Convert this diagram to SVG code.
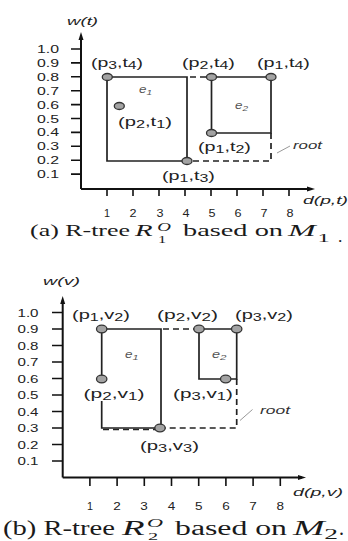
<svg xmlns="http://www.w3.org/2000/svg" width="348" height="541" viewBox="0 0 348 541">
<style>
text{font-family:"Liberation Sans",Arial,sans-serif;fill:#222}
.lbl{font-size:13px}
.s{font-size:10.5px}
.tk{font-size:10px;fill:#333}
.ax{font-size:11px;font-style:italic}
.e{font-size:10px;font-style:italic;fill:#555}
.rt{font-size:10px;font-style:italic;fill:#333}
.cap text{font-family:"Liberation Serif","Times New Roman",serif;fill:#1a1a1a}
.it{font-style:italic}
.axis{stroke:#111;stroke-width:2;fill:none}
.tick{stroke:#111;stroke-width:1.6;fill:none}
.solid{stroke:#222;stroke-width:1.7;fill:none}
.dash{stroke:#222;stroke-width:1.7;fill:none;stroke-dasharray:6 4}
.lead{stroke:#999;stroke-width:1;fill:none}
.pt{fill:#a3a3a3;stroke:#333;stroke-width:1.3}
.arr{fill:#111}
</style>

<!-- ============ Chart (a) ============ -->
<g id="axes-a">
<path class="axis" d="M81,189 V36 M81,189 H310"/>
<path class="arr" d="M81,32 L78.5,40 L83.5,40 Z"/>
<path class="arr" d="M315,189 L307,186.5 L307,191.5 Z"/>
<path class="tick" d="M71,49 H81 M71,62.9 H81 M71,76.8 H81 M71,90.7 H81 M71,104.6 H81 M71,118.5 H81 M71,132.4 H81 M71,146.3 H81 M71,160.2 H81 M71,174.1 H81"/>
<path class="tick" d="M107,189 V196 M133,189 V196 M159,189 V196 M185,189 V196 M211,189 V196 M237,189 V196 M263,189 V196 M289,189 V196"/>
<text class="ax" x="67" y="25" textLength="31" lengthAdjust="spacingAndGlyphs">w(t)</text>
<text class="ax" x="303" y="204" textLength="45" lengthAdjust="spacingAndGlyphs">d(p,t)</text>
<g class="tk" text-anchor="end">
<text x="59" y="53" textLength="22" lengthAdjust="spacingAndGlyphs">1.0</text>
<text x="59" y="66.9" textLength="22" lengthAdjust="spacingAndGlyphs">0.9</text>
<text x="59" y="80.8" textLength="22" lengthAdjust="spacingAndGlyphs">0.8</text>
<text x="59" y="94.7" textLength="22" lengthAdjust="spacingAndGlyphs">0.7</text>
<text x="59" y="108.6" textLength="22" lengthAdjust="spacingAndGlyphs">0.6</text>
<text x="59" y="122.5" textLength="22" lengthAdjust="spacingAndGlyphs">0.5</text>
<text x="59" y="136.4" textLength="22" lengthAdjust="spacingAndGlyphs">0.4</text>
<text x="59" y="150.3" textLength="22" lengthAdjust="spacingAndGlyphs">0.3</text>
<text x="59" y="164.2" textLength="22" lengthAdjust="spacingAndGlyphs">0.2</text>
<text x="59" y="178.1" textLength="22" lengthAdjust="spacingAndGlyphs">0.1</text>
</g>
<g class="tk" text-anchor="middle">
<text x="107" y="217" textLength="6" lengthAdjust="spacingAndGlyphs">1</text>
<text x="133" y="217" textLength="7" lengthAdjust="spacingAndGlyphs">2</text>
<text x="160" y="217" textLength="7" lengthAdjust="spacingAndGlyphs">3</text>
<text x="186" y="217" textLength="7" lengthAdjust="spacingAndGlyphs">4</text>
<text x="212" y="217" textLength="7" lengthAdjust="spacingAndGlyphs">5</text>
<text x="238" y="217" textLength="7" lengthAdjust="spacingAndGlyphs">6</text>
<text x="264" y="217" textLength="7" lengthAdjust="spacingAndGlyphs">7</text>
<text x="290" y="217" textLength="7" lengthAdjust="spacingAndGlyphs">8</text>
</g>
</g>

<g id="connectors-a">
<path class="solid" d="M107,77 V161 H187 V77 H107"/>
<path class="solid" d="M211.5,77 H271 V133 H211.5 Z"/>
<path class="dash" d="M187,77 H211.5" stroke-dashoffset="-3"/>
<path class="dash" d="M271,133 V161 H187"/>
<path class="lead" d="M277,153 L290,146"/>
</g>

<g id="node-e1-a"><text class="e" x="139" y="93" textLength="13" lengthAdjust="spacingAndGlyphs">e<tspan font-size="7.5" dy="1.5">1</tspan></text></g>
<g id="node-e2-a"><text class="e" x="235" y="109" textLength="13" lengthAdjust="spacingAndGlyphs">e<tspan font-size="7.5" dy="1.5">2</tspan></text></g>
<g id="node-root-a"><text class="rt" x="293" y="149" textLength="29" lengthAdjust="spacingAndGlyphs">root</text></g>

<g id="node-p3t4"><ellipse class="pt" cx="107.3" cy="77" rx="5" ry="3.5"/>
<text class="lbl" x="117" y="67" text-anchor="middle" textLength="52" lengthAdjust="spacingAndGlyphs">(p<tspan class="s" dy="2">3</tspan><tspan dy="-2">,t</tspan><tspan class="s" dy="2">4</tspan><tspan dy="-2">)</tspan></text></g>
<g id="node-p2t4"><ellipse class="pt" cx="211.5" cy="77" rx="5" ry="3.5"/>
<text class="lbl" x="208.5" y="67" text-anchor="middle" textLength="53" lengthAdjust="spacingAndGlyphs">(p<tspan class="s" dy="2">2</tspan><tspan dy="-2">,t</tspan><tspan class="s" dy="2">4</tspan><tspan dy="-2">)</tspan></text></g>
<g id="node-p1t4"><ellipse class="pt" cx="271" cy="77" rx="5" ry="3.5"/>
<text class="lbl" x="283.5" y="67" text-anchor="middle" textLength="53" lengthAdjust="spacingAndGlyphs">(p<tspan class="s" dy="2">1</tspan><tspan dy="-2">,t</tspan><tspan class="s" dy="2">4</tspan><tspan dy="-2">)</tspan></text></g>
<g id="node-p2t1"><ellipse class="pt" cx="119.3" cy="106" rx="5" ry="3.5"/>
<text class="lbl" x="145" y="125.5" text-anchor="middle" textLength="54" lengthAdjust="spacingAndGlyphs">(p<tspan class="s" dy="2">2</tspan><tspan dy="-2">,t</tspan><tspan class="s" dy="2">1</tspan><tspan dy="-2">)</tspan></text></g>
<g id="node-p1t2"><ellipse class="pt" cx="211.5" cy="133" rx="5" ry="3.5"/>
<text class="lbl" x="224.5" y="151" text-anchor="middle" textLength="53" lengthAdjust="spacingAndGlyphs">(p<tspan class="s" dy="2">1</tspan><tspan dy="-2">,t</tspan><tspan class="s" dy="2">2</tspan><tspan dy="-2">)</tspan></text></g>
<g id="node-p1t3"><ellipse class="pt" cx="187" cy="161" rx="5" ry="3.5"/>
<text class="lbl" x="188.5" y="180" text-anchor="middle" textLength="53" lengthAdjust="spacingAndGlyphs">(p<tspan class="s" dy="2">1</tspan><tspan dy="-2">,t</tspan><tspan class="s" dy="2">3</tspan><tspan dy="-2">)</tspan></text></g>

<g id="caption-a" class="cap">
<text x="30" y="235.5" font-size="17.5" textLength="100" lengthAdjust="spacingAndGlyphs">(a) R-tree</text>
<text transform="translate(135,235.5) scale(1.65,1)" font-size="17.5"><tspan class="it">R</tspan><tspan class="it" font-size="11.5" x="13.5" y="-4.5">O</tspan><tspan font-size="10" x="14" y="7.5">1</tspan></text>
<text x="183" y="235.5" font-size="17.5" textLength="100" lengthAdjust="spacingAndGlyphs">based on</text>
<text transform="translate(288,235.5) scale(1.9,1)" font-size="17.5"><tspan class="it">M</tspan><tspan font-size="13" x="15.5" y="6">1</tspan></text>
<text x="338" y="241.5" font-size="17.5">.</text>
</g>

<!-- ============ Chart (b) ============ -->
<g id="axes-b">
<path class="axis" d="M62.7,477.5 V300 M62.7,477.5 H302"/>
<path class="arr" d="M62.7,296 L60.2,304 L65.2,304 Z"/>
<path class="arr" d="M306,477.5 L298,475 L298,480 Z"/>
<path class="tick" d="M52,312.5 H62.7 M52,329 H62.7 M52,345.5 H62.7 M52,362 H62.7 M52,378.5 H62.7 M52,395 H62.7 M52,411.5 H62.7 M52,428 H62.7 M52,444.5 H62.7 M52,461 H62.7"/>
<path class="tick" d="M89.9,477.5 V486 M117.1,477.5 V486 M144.3,477.5 V486 M171.5,477.5 V486 M198.7,477.5 V486 M225.9,477.5 V486 M253.1,477.5 V486 M280.3,477.5 V486"/>
<text class="ax" x="43" y="285" font-size="12" textLength="37" lengthAdjust="spacingAndGlyphs">w(v)</text>
<text class="ax" x="293" y="496" font-size="12" textLength="50" lengthAdjust="spacingAndGlyphs">d(p,v)</text>
<g class="tk" text-anchor="end" font-size="10.5">
<text x="38.5" y="316.5" textLength="21" lengthAdjust="spacingAndGlyphs">1.0</text>
<text x="38.5" y="333" textLength="21" lengthAdjust="spacingAndGlyphs">0.9</text>
<text x="38.5" y="349.5" textLength="21" lengthAdjust="spacingAndGlyphs">0.8</text>
<text x="38.5" y="366" textLength="21" lengthAdjust="spacingAndGlyphs">0.7</text>
<text x="38.5" y="382.5" textLength="21" lengthAdjust="spacingAndGlyphs">0.6</text>
<text x="38.5" y="399" textLength="21" lengthAdjust="spacingAndGlyphs">0.5</text>
<text x="38.5" y="415.5" textLength="21" lengthAdjust="spacingAndGlyphs">0.4</text>
<text x="38.5" y="432" textLength="21" lengthAdjust="spacingAndGlyphs">0.3</text>
<text x="38.5" y="448.5" textLength="21" lengthAdjust="spacingAndGlyphs">0.2</text>
<text x="38.5" y="465" textLength="21" lengthAdjust="spacingAndGlyphs">0.1</text>
</g>
<g class="tk" text-anchor="middle" font-size="11.5">
<text x="90" y="509.5" textLength="6" lengthAdjust="spacingAndGlyphs">1</text>
<text x="117" y="509.5" textLength="7.5" lengthAdjust="spacingAndGlyphs">2</text>
<text x="144" y="509.5" textLength="7.5" lengthAdjust="spacingAndGlyphs">3</text>
<text x="171.5" y="509.5" textLength="7.5" lengthAdjust="spacingAndGlyphs">4</text>
<text x="198.7" y="509.5" textLength="7.5" lengthAdjust="spacingAndGlyphs">5</text>
<text x="226" y="509.5" textLength="7.5" lengthAdjust="spacingAndGlyphs">6</text>
<text x="253" y="509.5" textLength="7.5" lengthAdjust="spacingAndGlyphs">7</text>
<text x="280.3" y="509.5" textLength="7.5" lengthAdjust="spacingAndGlyphs">8</text>
</g>
</g>

<g id="connectors-b">
<path class="solid" d="M101.7,383 V329 H161 V428 M101.7,401 V428 H161"/>
<path class="dash" d="M103,429.5 H159" stroke-width="1.4"/>
<path class="solid" d="M199,329 H236.7 V379 H199 Z"/>
<path class="dash" d="M161,329 H199" stroke-dashoffset="-2"/>
<path class="dash" d="M236.7,379 V428 H161"/>
<path class="lead" d="M240,420.5 L252.5,409.5"/>
</g>

<g id="node-e1-b"><text class="e" x="125" y="358" font-size="11" textLength="13.5" lengthAdjust="spacingAndGlyphs">e<tspan font-size="8" dy="1.5">1</tspan></text></g>
<g id="node-e2-b"><text class="e" x="212" y="358" font-size="11" textLength="14.5" lengthAdjust="spacingAndGlyphs">e<tspan font-size="8" dy="1.5">2</tspan></text></g>
<g id="node-root-b"><text class="rt" x="260" y="414" font-size="10.5" textLength="30" lengthAdjust="spacingAndGlyphs">root</text></g>

<g id="node-p1v2"><ellipse class="pt" cx="101.7" cy="329" rx="5.2" ry="3.8"/>
<text class="lbl" x="101" y="319" font-size="14.5" text-anchor="middle" textLength="58" lengthAdjust="spacingAndGlyphs">(p<tspan class="s" font-size="12" dy="2">1</tspan><tspan dy="-2">,v</tspan><tspan class="s" font-size="12" dy="2">2</tspan><tspan dy="-2">)</tspan></text></g>
<g id="node-p2v2"><ellipse class="pt" cx="199" cy="329" rx="5.2" ry="3.8"/>
<text class="lbl" x="187.5" y="319" font-size="14.5" text-anchor="middle" textLength="61" lengthAdjust="spacingAndGlyphs">(p<tspan class="s" font-size="12" dy="2">2</tspan><tspan dy="-2">,v</tspan><tspan class="s" font-size="12" dy="2">2</tspan><tspan dy="-2">)</tspan></text></g>
<g id="node-p3v2"><ellipse class="pt" cx="236.7" cy="329" rx="5.2" ry="3.8"/>
<text class="lbl" x="264" y="319" font-size="14.5" text-anchor="middle" textLength="58" lengthAdjust="spacingAndGlyphs">(p<tspan class="s" font-size="12" dy="2">3</tspan><tspan dy="-2">,v</tspan><tspan class="s" font-size="12" dy="2">2</tspan><tspan dy="-2">)</tspan></text></g>
<g id="node-p2v1"><ellipse class="pt" cx="101.7" cy="379" rx="5.2" ry="3.8"/>
<text class="lbl" x="114" y="398" font-size="14.5" text-anchor="middle" textLength="61" lengthAdjust="spacingAndGlyphs">(p<tspan class="s" font-size="12" dy="2">2</tspan><tspan dy="-2">,v</tspan><tspan class="s" font-size="12" dy="2">1</tspan><tspan dy="-2">)</tspan></text></g>
<g id="node-p3v1"><ellipse class="pt" cx="225.7" cy="379" rx="5.2" ry="3.8"/>
<text class="lbl" x="203" y="398" font-size="14.5" text-anchor="middle" textLength="60" lengthAdjust="spacingAndGlyphs">(p<tspan class="s" font-size="12" dy="2">3</tspan><tspan dy="-2">,v</tspan><tspan class="s" font-size="12" dy="2">1</tspan><tspan dy="-2">)</tspan></text></g>
<g id="node-p3v3"><ellipse class="pt" cx="160" cy="428" rx="5.2" ry="3.8"/>
<text class="lbl" x="169.5" y="450" font-size="14.5" text-anchor="middle" textLength="59" lengthAdjust="spacingAndGlyphs">(p<tspan class="s" font-size="12" dy="2">3</tspan><tspan dy="-2">,v</tspan><tspan class="s" font-size="12" dy="2">3</tspan><tspan dy="-2">)</tspan></text></g>

<g id="caption-b" class="cap">
<text x="3" y="535" font-size="20" textLength="112" lengthAdjust="spacingAndGlyphs">(b) R-tree</text>
<text transform="translate(122,535) scale(1.85,1)" font-size="20"><tspan class="it">R</tspan><tspan class="it" font-size="12" x="13.5" y="-8">O</tspan><tspan font-size="11" x="14" y="4.5">2</tspan></text>
<text x="175" y="535" font-size="20" textLength="112" lengthAdjust="spacingAndGlyphs">based on</text>
<text transform="translate(293,535) scale(1.9,1)" font-size="20"><tspan class="it">M</tspan><tspan font-size="14.5" x="16.5" y="4">2</tspan></text>
<text x="339" y="535" font-size="20">.</text>
</g>
</svg>
